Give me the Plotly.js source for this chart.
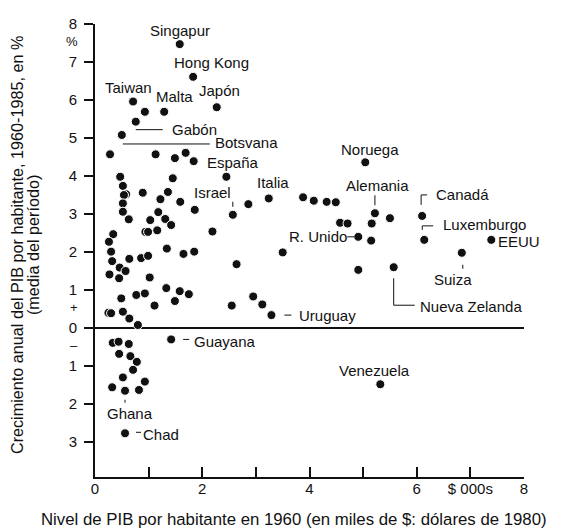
<!DOCTYPE html>
<html>
<head>
<meta charset="utf-8">
<script src="https://cdn.plot.ly/plotly-3.0.1.min.js"></script>
<style>html,body{margin:0;padding:0;background:#fff}#chart{width:576px;height:528px}</style>
</head>
<body>
<div id="chart"></div>
<script>
// ---- DATA ----
// Labelled countries: PIB por habitante 1960 (miles de $ de 1980) and growth 1960-85 (%)
var labelNames = ["Singapur","Hong Kong","Taiwan","Malta","Japón","Gabón","Botsvana","España","Israel","Italia","Noruega","Alemania","Canadá","Luxemburgo","EEUU","Suiza","R. Unido","Nueva Zelanda","Uruguay","Guayana","Venezuela","Ghana","Chad"];
var labelX = [1.58,1.83,0.71,1.29,2.27,0.76,0.50,1.84,2.57,3.24,5.04,5.22,6.10,6.14,7.39,6.84,4.91,5.57,3.29,1.42,5.32,0.56,0.56];
var labelY = [7.47,6.61,5.96,5.69,5.81,5.43,5.08,4.39,2.98,3.41,4.36,3.02,2.95,2.32,2.32,1.98,2.40,1.60,0.34,-0.30,-1.48,-1.65,-2.77];

// Unlabelled countries
var otherX = [0.93,0.28,1.13,1.49,1.69,0.47,1.45,2.45,
  0.52,0.58,0.54,0.52,0.52,0.63,0.89,1.36,1.22,1.59,1.86,1.18,1.03,1.31,1.42,0.94,0.99,1.16,2.19,2.86,
  0.34,0.26,0.30,0.32,0.64,0.86,0.99,0.27,0.46,0.57,0.45,1.02,1.34,1.65,1.85,2.64,
  1.33,1.58,1.75,0.77,0.93,0.49,1.49,1.11,2.55,2.95,3.12,0.25,0.30,0.52,0.64,0.80,
  3.50,3.88,4.08,4.32,4.49,4.57,4.71,5.16,5.50,5.15,4.91,
  0.33,0.44,0.63,0.45,0.66,0.78,0.71,0.52,0.93,0.32,0.82];
var otherY = [5.69,4.57,4.57,4.47,4.61,3.98,3.94,3.98,
  3.74,3.52,3.50,3.28,3.06,2.86,3.56,3.58,3.39,3.32,3.11,3.05,2.84,2.87,2.71,2.53,2.53,2.57,2.54,3.26,
  2.47,2.27,2.01,1.76,1.82,1.84,1.90,1.41,1.59,1.50,1.31,1.33,2.09,1.95,2.01,1.68,
  1.05,0.97,0.89,0.87,0.91,0.78,0.71,0.59,0.59,0.83,0.62,0.40,0.39,0.43,0.25,0.08,
  1.99,3.44,3.35,3.32,3.31,2.77,2.75,2.75,2.89,2.30,1.53,
  -0.39,-0.36,-0.42,-0.68,-0.74,-0.89,-1.10,-1.30,-1.41,-1.56,-1.63];

// Axis tick labels and titles
var xTickVals = [0,1,2,3,4,5,6,7,8];
var xTickText = ["0","","2","","4","","6","$ 000s","8"];
var yTickVals = [8,7,6,5,4,3,2,1,0,-1,-2,-3];
var yTickText = ["8","7","6","5","4","3","2","1","0","1","2","3"];
var extraYLabelText = ["%","+","–"];
var extraYLabelPos = [7.55,0.55,-0.45];
var xTitle = "Nivel de PIB por habitante en 1960 (en miles de $: dólares de 1980)";
var yTitleLines = ["Crecimiento anual del PIB por habitante, 1960-1985, en %","(media del período)"];

// ---- STYLE / LABEL PLACEMENT (pixel offsets from the point) ----
var labelStyle = {
  "Singapur":      {a:"center", dx:0,  dy:14},
  "Hong Kong":     {a:"center", dx:18, dy:14},
  "Taiwan":        {a:"center", dx:-5, dy:14},
  "Malta":         {a:"center", dx:10, dy:15},
  "Japón":         {a:"center", dx:3,  dy:17},
  "Gabón":         {a:"left",   dx:34, dy:-8,  lead:[[0,-8],[27,-8]]},
  "Botsvana":      {a:"left",   dx:91, dy:-8,  lead:[[1,-9],[88,-9]]},
  "España":        {a:"left",   dx:11, dy:-1},
  "Israel":        {a:"center", dx:-20,dy:22,  lead:[[0,8],[0,13]]},
  "Italia":        {a:"center", dx:4,  dy:16},
  "Noruega":       {a:"center", dx:5,  dy:13},
  "Alemania":      {a:"center", dx:3,  dy:28,  lead:[[0,8],[0,18]]},
  "Canadá":        {a:"left",   dx:12, dy:21,  lead:[[-1,11],[-1,21],[5,21]]},
  "Luxemburgo":    {a:"left",   dx:17, dy:15,  lead:[[-2,10],[-2,14],[9,14]]},
  "EEUU":          {a:"left",   dx:5,  dy:-2},
  "Suiza":         {a:"center", dx:-9, dy:-27, lead:[[1,-12],[1,-16]]},
  "R. Unido":      {a:"right",  dx:-9, dy:0,   lead:[[-11,0],[-4,0]]},
  "Nueva Zelanda": {a:"left",   dx:24, dy:-39, lead:[[0,-11],[0,-38],[21,-38]]},
  "Uruguay":       {a:"left",   dx:26, dy:0,   lead:[[13,0],[20,0]]},
  "Guayana":       {a:"left",   dx:21, dy:-2,  lead:[[12,0],[18,0]]},
  "Venezuela":     {a:"center", dx:-6, dy:14},
  "Ghana":         {a:"center", dx:5,  dy:-23, lead:[[0,-9],[0,-12]]},
  "Chad":          {a:"left",   dx:16, dy:-1,  lead:[[11,1],[16,1]]}
};

var FONT = "Liberation Sans, Arial, Helvetica, sans-serif";
var INK = "#111";

var marker = {color: INK, size: 9, line: {color: "#fff", width: 1}};

var traces = [
  {type:"scatter", mode:"markers", x: otherX, y: otherY, marker: marker, hoverinfo:"skip", showlegend:false, cliponaxis:false},
  {type:"scatter", mode:"markers", x: labelX, y: labelY, text: labelNames, marker: marker, hoverinfo:"text", showlegend:false, cliponaxis:false}
];

var annotations = [];
var shapes = [];
labelNames.forEach(function(n, i){
  var s = labelStyle[n];
  annotations.push({
    x: labelX[i], y: labelY[i], xref:"x", yref:"y", text: n, showarrow:false,
    xanchor: s.a, yanchor:"middle", xshift: s.dx, yshift: s.dy,
    font:{family:FONT, size:15, color:INK}
  });
  if (s.lead) {
    var p = s.lead.map(function(q, k){ return (k ? "L" : "M") + q[0] + "," + q[1]; }).join(" ");
    shapes.push({
      type:"path", xref:"x", yref:"y", xsizemode:"pixel", ysizemode:"pixel",
      xanchor: labelX[i], yanchor: labelY[i], path: p,
      line:{color:INK, width:1}
    });
  }
});
extraYLabelText.forEach(function(t, i){
  annotations.push({
    x:0, y: extraYLabelPos[i], xref:"x", yref:"y", text:t, showarrow:false,
    xanchor:"right", yanchor:"middle", xshift:-15,
    font:{family:FONT, size:13, color:INK}
  });
});
// axis titles
annotations.push({
  xref:"paper", yref:"paper", x:0.464, y:0, yshift:-42, xanchor:"center", yanchor:"middle",
  text:xTitle, showarrow:false, font:{family:FONT, size:16.8, color:INK}
});
yTitleLines.forEach(function(t, i){
  annotations.push({
    xref:"paper", yref:"paper", x:0, xshift:[-78,-62][i], y:0.512, xanchor:"center", yanchor:"middle",
    textangle:-90, text:t, showarrow:false, font:{family:FONT, size:16.2, color:INK}
  });
});

var layout = {
  width:576, height:528,
  margin:{l:95, r:52, t:24, b:51, pad:0},
  paper_bgcolor:"#fff", plot_bgcolor:"#fff",
  font:{family:FONT, size:15, color:INK},
  showlegend:false,
  xaxis:{
    range:[0,8], tickvals:xTickVals, ticktext:xTickText,
    ticks:"inside", ticklen:10, tickwidth:2, tickcolor:INK, ticklabelstandoff:-3,
    showline:true, linewidth:2, linecolor:INK, showgrid:false, zeroline:false,
    tickfont:{family:FONT, size:15, color:INK},
    automargin:false
  },
  yaxis:{
    range:[-3.92, 8.0], tickvals:yTickVals, ticktext:yTickText,
    ticks:"outside", ticklen:9, tickwidth:2, tickcolor:INK, ticklabelstandoff:4,
    showline:true, linewidth:2, linecolor:INK, showgrid:false,
    zeroline:true, zerolinewidth:2, zerolinecolor:INK,
    tickfont:{family:FONT, size:15, color:INK},
    automargin:false
  },
  annotations: annotations,
  shapes: shapes
};

Plotly.newPlot("chart", traces, layout, {staticPlot:true, displayModeBar:false});
</script>
</body>
</html>
